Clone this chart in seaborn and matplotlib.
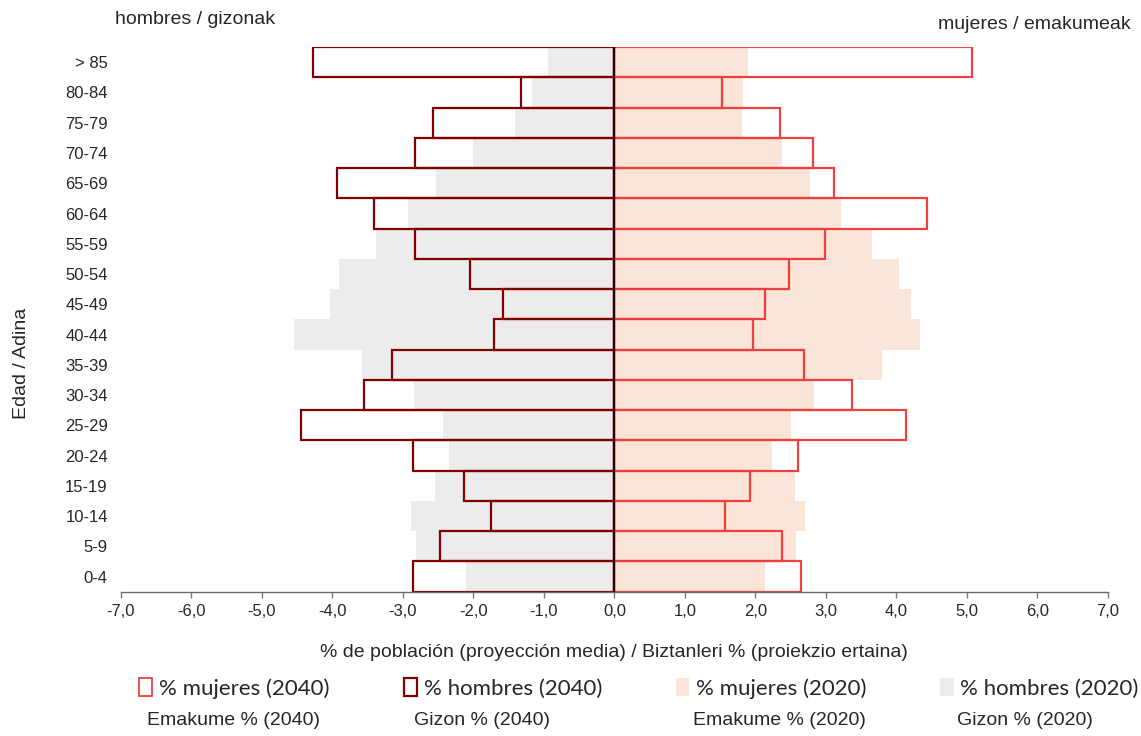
"""Population pyramid 2020 vs 2040 (projection), men left / women right."""

import matplotlib
matplotlib.use("Agg")

import matplotlib.pyplot as plt
import numpy as np
import pandas as pd
import seaborn as sns
from matplotlib.patches import Patch
from matplotlib.ticker import FuncFormatter, MultipleLocator

AGE_GROUPS = ["> 85", "80-84", "75-79", "70-74", "65-69", "60-64", "55-59",
              "50-54", "45-49", "40-44", "35-39", "30-34", "25-29", "20-24",
              "15-19", "10-14", "5-9", "0-4"]

MEN_2020 = [0.94, 1.17, 1.41, 2.00, 2.53, 2.93, 3.38, 3.91, 4.04, 4.54,
            3.58, 2.84, 2.43, 2.34, 2.54, 2.88, 2.81, 2.11]
WOMEN_2020 = [1.89, 1.82, 1.81, 2.37, 2.77, 3.21, 3.66, 4.03, 4.20, 4.33,
              3.79, 2.83, 2.50, 2.24, 2.56, 2.70, 2.58, 2.14]
MEN_2040 = [4.27, 1.33, 2.57, 2.83, 3.93, 3.41, 2.83, 2.05, 1.58, 1.71,
            3.16, 3.55, 4.44, 2.86, 2.14, 1.75, 2.48, 2.86]
WOMEN_2040 = [5.07, 1.53, 2.35, 2.81, 3.12, 4.43, 2.98, 2.47, 2.13, 1.96,
              2.69, 3.37, 4.13, 2.60, 1.92, 1.57, 2.38, 2.64]

LEGEND_LABELS = ["% mujeres (2040)", "% hombres (2040)",
                 "% mujeres (2020)", "% hombres (2020)"]
LEGEND_LABELS_EU = ["Emakume % (2040)", "Gizon % (2040)",
                    "Emakume % (2020)", "Gizon % (2020)"]

C_MEN_2020 = "#ececec"
C_WOMEN_2020 = "#fae5d8"
C_MEN_2040 = "#800000"
C_WOMEN_2040 = "#ee4040"

sns.set_style("white")
plt.rcParams["font.family"] = ["Liberation Sans", "DejaVu Sans"]

df = pd.DataFrame({
    "age": AGE_GROUPS,
    "men_2020": -np.array(MEN_2020),
    "women_2020": WOMEN_2020,
    "men_2040": -np.array(MEN_2040),
    "women_2040": WOMEN_2040,
})

fig = plt.figure(figsize=(11.41, 7.36), dpi=100)
ax = fig.add_axes([0.106, 0.196, 0.865, 0.74])

# 2020: filled bars
sns.barplot(data=df, x="men_2020", y="age", order=AGE_GROUPS, color=C_MEN_2020,
            saturation=1, width=1, linewidth=0, ax=ax)
sns.barplot(data=df, x="women_2020", y="age", order=AGE_GROUPS, color=C_WOMEN_2020,
            saturation=1, width=1, linewidth=0, ax=ax)
# 2040: outline only
sns.barplot(data=df, x="women_2040", y="age", order=AGE_GROUPS, color=C_WOMEN_2040,
            saturation=1, width=1, fill=False, linewidth=1.6, ax=ax)
sns.barplot(data=df, x="men_2040", y="age", order=AGE_GROUPS, color=C_MEN_2040,
            saturation=1, width=1, fill=False, linewidth=1.6, ax=ax)

ax.axvline(0, color="#2a0000", lw=1.6, zorder=5)

ax.set_xlim(-7, 7)
ax.set_ylim(17.5, -0.5)
ax.xaxis.set_major_locator(MultipleLocator(1))
ax.xaxis.set_major_formatter(FuncFormatter(lambda v, _: f"{v:.1f}".replace(".", ",")))
ax.tick_params(axis="x", bottom=True, length=4, width=1, color="#777777",
               labelsize=12, pad=5)
ax.tick_params(axis="y", left=False, labelsize=12, pad=6)
for side in ["top", "right", "left"]:
    ax.spines[side].set_visible(False)
ax.spines["bottom"].set_color("#666666")
ax.spines["bottom"].set_linewidth(1)

ax.set_xlabel("% de población (proyección media) / Biztanleri % (proiekzio ertaina)",
              fontsize=14, labelpad=18)
ax.set_ylabel("Edad / Adina", fontsize=14)
ax.yaxis.set_label_coords(-0.092, 0.42)

fig.text(0.101, 0.973, "hombres / gizonak", fontsize=14, va="center", ha="left")
fig.text(0.991, 0.967, "mujeres / emakumeak", fontsize=14, va="center", ha="right")

handles = [
    Patch(facecolor="white", edgecolor=C_WOMEN_2040, linewidth=1.3),
    Patch(facecolor="white", edgecolor=C_MEN_2040, linewidth=1.6),
    Patch(facecolor=C_WOMEN_2020, edgecolor="none"),
    Patch(facecolor=C_MEN_2020, edgecolor="none"),
]
leg = fig.legend(handles, LEGEND_LABELS, loc="center", ncol=4,
                 bbox_to_anchor=(0.560, 0.065), frameon=False,
                 handlelength=0.6, handleheight=0.9, handletextpad=0.3,
                 columnspacing=3.33, prop={"family": "Lato", "size": 16})

for x, txt in zip([0.129, 0.363, 0.607, 0.839], LEGEND_LABELS_EU):
    fig.text(x, 0.0204, txt, fontsize=14, ha="left", va="center")

fig.savefig("out.png", dpi=100)
plt.close(fig)
